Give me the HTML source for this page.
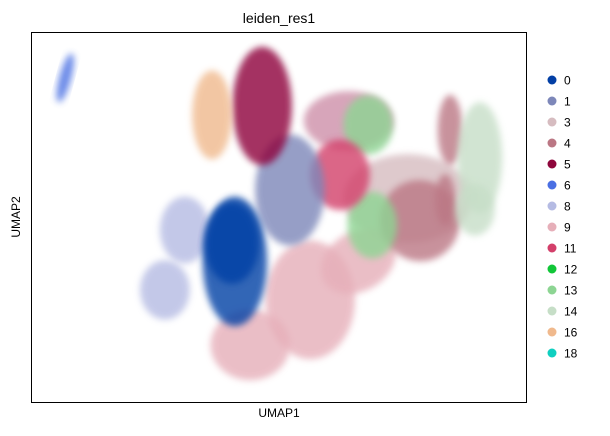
<!DOCTYPE html>
<html><head><meta charset="utf-8">
<style>
body{margin:0;background:#fff;width:610px;height:431px;overflow:hidden;font-family:"Liberation Sans",sans-serif;}
</style></head>
<body>
<svg id="chart" width="610" height="431" xmlns="http://www.w3.org/2000/svg">
<defs><filter id="soft" x="-30%" y="-30%" width="160%" height="160%"><feGaussianBlur stdDeviation="3.5"/></filter></defs>
<text x="279" y="23" font-size="14" text-anchor="middle" fill="#000">leiden_res1</text>
<g id="blobs"></g>
<rect x="31.5" y="32.5" width="495" height="370" fill="none" stroke="#000" stroke-width="1"/>
<text x="279" y="417" font-size="12" text-anchor="middle">UMAP1</text>
<text x="20" y="217" font-size="12" text-anchor="middle" transform="rotate(-90 20 217)">UMAP2</text>
<g id="legend"></g>
</svg>
<script>
const categories=["0","1","3","4","5","6","8","9","11","12","13","14","16","18"];
const colors=["#023fa5","#7d87b9","#d6bcc0","#bb7784","#8e063b","#4a6fe3","#b5bbe3","#e6afb9","#d33f6a","#11c638","#8dd593","#c6dec7","#f0b98d","#0fcfc0"];
// blobs in UMAP data units (x 0..100, y 0..100 upward)
const blobCluster=["3","5","9","9","9","8","8","4","4","4","14","14","13","13","11","1","0","0","5","16","6"];
const blobX=[76,64,56.3,44.2,66,31,27,78.4,84.5,83.5,90.5,89.5,68,68.8,62.3,52.2,41.1,40.5,46.6,36.5,6.9];
const blobY=[55,76,27.6,15.4,38,46.5,30.3,49,73.5,54.6,66,52,74.9,47.8,61.4,57.3,38,43,80,77.6,87.6];
const blobRX=[13,9,9,8,8,5,5,8,2.5,2,4.5,4,5,5,6,7,6.5,5.5,6,4,1.2];
const blobRY=[12,8,16,9.5,8,9,8,11,9.5,7,15,7,8,9,9.5,15,17.5,11,16,12,6.8];
const blobRot=[0,0,0,0,-30,0,0,-20,0,0,0,0,0,0,0,0,0,0,0,0,15];
const X0=31,X1=527,Y0=402,Y1=32;
function sx(v){return X0+(X1-X0)*v/100;}
function sy(v){return Y0-(Y0-Y1)*v/100;}
function rx(v){return (X1-X0)*v/100;}
function ry(v){return (Y0-Y1)*v/100;}
const NS="http://www.w3.org/2000/svg";
const g=document.getElementById('blobs');
for(let i=0;i<blobCluster.length;i++){
  const e=document.createElementNS(NS,'ellipse');
  const cx=sx(blobX[i]),cy=sy(blobY[i]);
  e.setAttribute('cx',cx);e.setAttribute('cy',cy);
  e.setAttribute('rx',rx(blobRX[i]));e.setAttribute('ry',ry(blobRY[i]));
  e.setAttribute('transform','rotate('+blobRot[i]+' '+cx+' '+cy+')');
  e.setAttribute('fill',colors[categories.indexOf(blobCluster[i])]);
  e.setAttribute('opacity',(i===1)?'0.35':'0.8');
  e.setAttribute('filter','url(#soft)');
  
  
  g.appendChild(e);
}
const lg=document.getElementById('legend');
for(let i=0;i<categories.length;i++){
  const y=80+i*21;
  const grp=document.createElementNS(NS,'g');
  
  
  const c=document.createElementNS(NS,'circle');
  c.setAttribute('cx',552);c.setAttribute('cy',y);c.setAttribute('r',4.5);c.setAttribute('fill',colors[i]);
  const t=document.createElementNS(NS,'text');
  t.setAttribute('x',564);t.setAttribute('y',y+4.5);t.setAttribute('font-size','12');t.textContent=categories[i];
  grp.appendChild(c);grp.appendChild(t);lg.appendChild(grp);
}
</script>
</body></html>
